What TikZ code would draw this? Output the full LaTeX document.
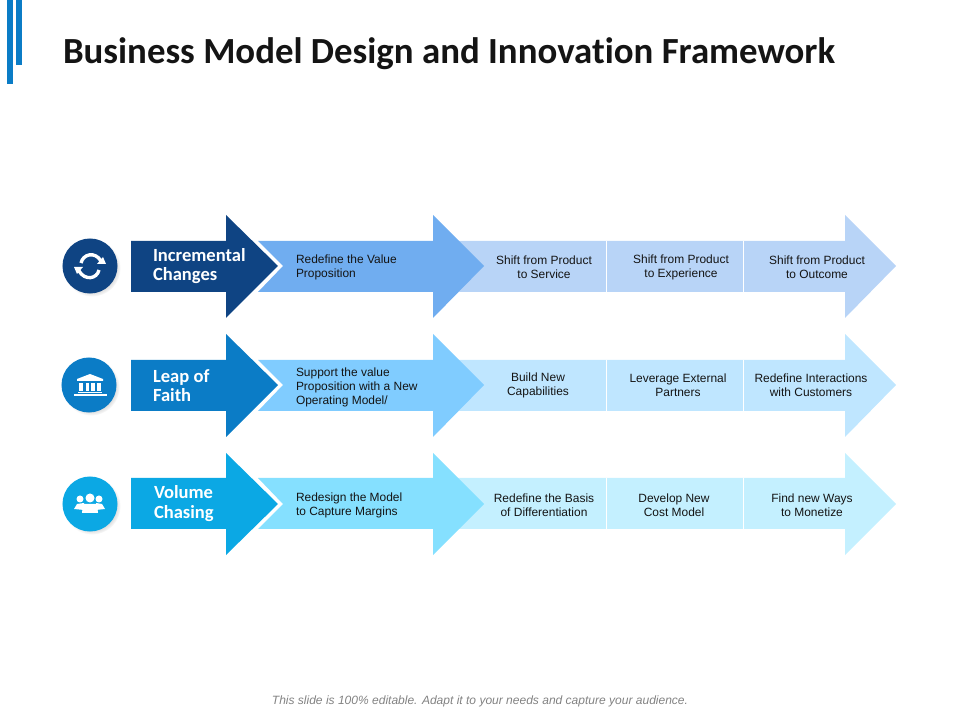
\documentclass[tikz,border=0pt]{standalone}
\usepackage{xcolor}
\usepackage{fontspec}
\usetikzlibrary{positioning,shadows}
\setmainfont{Liberation Sans}
\newfontfamily\headfont[Ligatures=NoCommon]{Carlito}
\definecolor{ink}{RGB}{20,20,20}
\definecolor{barblue}{RGB}{11,124,198}
\definecolor{footgray}{RGB}{130,130,130}
\definecolor{navy}{RGB}{15,68,131}
\definecolor{navymid}{RGB}{112,173,240}
\definecolor{navylight}{RGB}{184,212,247}
\definecolor{royal}{RGB}{11,124,198}
\definecolor{royalmid}{RGB}{128,204,255}
\definecolor{royallight}{RGB}{191,230,255}
\definecolor{sky}{RGB}{11,168,228}
\definecolor{skymid}{RGB}{133,224,255}
\definecolor{skylight}{RGB}{196,240,255}

\begin{document}
\begin{tikzpicture}[
  x=0.025cm,y=-0.025cm,
  every node/.style={inner sep=0pt,outer sep=0pt},
  title/.style={font=\headfont\bfseries\fontsize{26.2}{30}\selectfont,text=ink,anchor=west},
  footnote/.style={font=\itshape\fontsize{8.55}{10}\selectfont,text=footgray},
  rowhead/.style={font=\headfont\bfseries\fontsize{13.2}{13.6}\selectfont,text=white,align=left,anchor=west},
  stepnote/.style={font=\fontsize{8.5}{10}\selectfont,text=ink,align=center},
  leadnote/.style={font=\fontsize{8.5}{10}\selectfont,text=ink,align=left,anchor=west},
  badge/.style={circle,minimum size=1.375cm,circular drop shadow={shadow xshift=0.05cm,shadow yshift=-0.05cm,shadow scale=1.04,opacity=.25}},
  divider/.style={draw=white,line width=0.6pt},
  glyph/.style={draw=white,line width=2.4pt}
]
\useasboundingbox (0,0) rectangle (960,720);

% accent bars and title
\fill[barblue] (7,0) rectangle (13,84);
\fill[barblue] (16,0) rectangle (22,65);
\node[title] (heading) at (63,54) {Business Model Design and Innovation Framework};
\node[footnote] (foot) at (480,701) {This slide is 100\% editable. Adapt it to your needs and capture your audience.};

% row 1
\fill[navylight] (440,241) -- (845,241) -- (845,215) -- (896,266) -- (845,318) -- (845,292) -- (440,292) -- cycle;
\fill[navymid] (258,241) -- (433,241) -- (433,215) -- (484,266) -- (433,318) -- (433,292) -- (258,292) -- (283,266) -- cycle;
\fill[navy] (131,241) -- (226,241) -- (226,215) -- (278,266) -- (226,318) -- (226,292) -- (131,292) -- cycle;
\draw[divider] (606.5,241) -- (606.5,292);
\draw[divider] (743.5,241) -- (743.5,292);
\node[badge,fill=navy] (iconA) at (90,266) {};
\node[rowhead] (headA) at (153,266.5) {Incremental\\Changes};
\node[leadnote] (leadA) at (296,267) {Redefine the Value\\Proposition};
\node[stepnote] (stepAa) at (544,267) {Shift from Product\\to Service};
\node[stepnote] (stepAb) at (681,267) {Shift from Product\\to Experience};
\node[stepnote] (stepAc) at (817,267) {Shift from Product\\to Outcome};

% row 2
\fill[royallight] (440,360) -- (845,360) -- (845,334) -- (896,385) -- (845,437) -- (845,411) -- (440,411) -- cycle;
\fill[royalmid] (258,360) -- (433,360) -- (433,334) -- (484,385) -- (433,437) -- (433,411) -- (258,411) -- (283,385) -- cycle;
\fill[royal] (131,360) -- (226,360) -- (226,334) -- (278,385) -- (226,437) -- (226,411) -- (131,411) -- cycle;
\draw[divider] (606.5,360) -- (606.5,411);
\draw[divider] (743.5,360) -- (743.5,411);
\node[badge,fill=royal] (iconB) at (89,385) {};
\node[rowhead] (headB) at (153,385.5) {Leap of\\Faith};
\node[leadnote] (leadB) at (296,387) {Support the value\\Proposition with a New\\Operating Model/};
\node[stepnote] (stepBa) at (538,385.5) {Build New\\Capabilities};
\node[stepnote] (stepBb) at (678,385.5) {Leverage External\\Partners};
\node[stepnote] (stepBc) at (811,385.5) {Redefine Interactions\\with Customers};

% row 3
\fill[skylight] (440,478) -- (845,478) -- (845,453) -- (896,504) -- (845,555) -- (845,529) -- (440,529) -- cycle;
\fill[skymid] (258,478) -- (433,478) -- (433,453) -- (484,504) -- (433,555) -- (433,529) -- (258,529) -- (283,504) -- cycle;
\fill[sky] (131,478) -- (226,478) -- (226,453) -- (278,504) -- (226,555) -- (226,529) -- (131,529) -- cycle;
\draw[divider] (606.5,478) -- (606.5,529);
\draw[divider] (743.5,478) -- (743.5,529);
\node[badge,fill=sky] (iconC) at (90,504) {};
\node[rowhead] (headC) at (154,503.5) {Volume\\Chasing};
\node[leadnote] (leadC) at (296,505) {Redesign the Model\\to Capture Margins};
\node[stepnote] (stepCa) at (544,505) {Redefine the Basis\\of Differentiation};
\node[stepnote] (stepCb) at (674,505) {Develop New\\Cost Model};
\node[stepnote] (stepCc) at (812,505) {Find new Ways\\to Monetize};

% refresh glyph
\begin{scope}[shift={(90,266)}]
  \draw[glyph] (-9,-3) .. controls (-7,-12) and (5,-15) .. (11,-5);
  \fill[white] (7,-2) -- (16,-2) -- (13,-9) -- cycle;
  \draw[glyph] (9,4) .. controls (7,13) and (-5,15) .. (-11,5);
  \fill[white] (-7,1) -- (-16,1) -- (-13,8) -- cycle;
\end{scope}

% bank glyph
\begin{scope}[shift={(90,386)}]
  \fill[white] (0,-12) -- (13,-7) -- (13,-5) -- (-13,-5) -- (-13,-7) -- cycle;
  \fill[white] (-11,-3) rectangle (-7,5);
  \fill[white] (-4.5,-3) rectangle (-1,5);
  \fill[white] (1,-3) rectangle (4.5,5);
  \fill[white] (7,-3) rectangle (11,5);
  \fill[white] (-12,6) rectangle (12,7);
  \fill[white] (-16.5,8) rectangle (16.5,10);
\end{scope}

% people glyph
\begin{scope}[shift={(90,504)}]
  \fill[white] (-10,-5) circle[radius=3.5];
  \fill[white] (9,-5) circle[radius=3.5];
  \fill[white] (-16,5) -- (-13,0) -- (-6,-1) -- (-6,6) -- cycle;
  \fill[white] (15,5) -- (12,0) -- (6,-1) -- (6,6) -- cycle;
  \fill[white] (0,-6) circle[radius=4.5];
  \fill[white] (-8,9) -- (-7,0) -- (7,0) -- (8,9) -- cycle;
\end{scope}
\end{tikzpicture}
\end{document}
